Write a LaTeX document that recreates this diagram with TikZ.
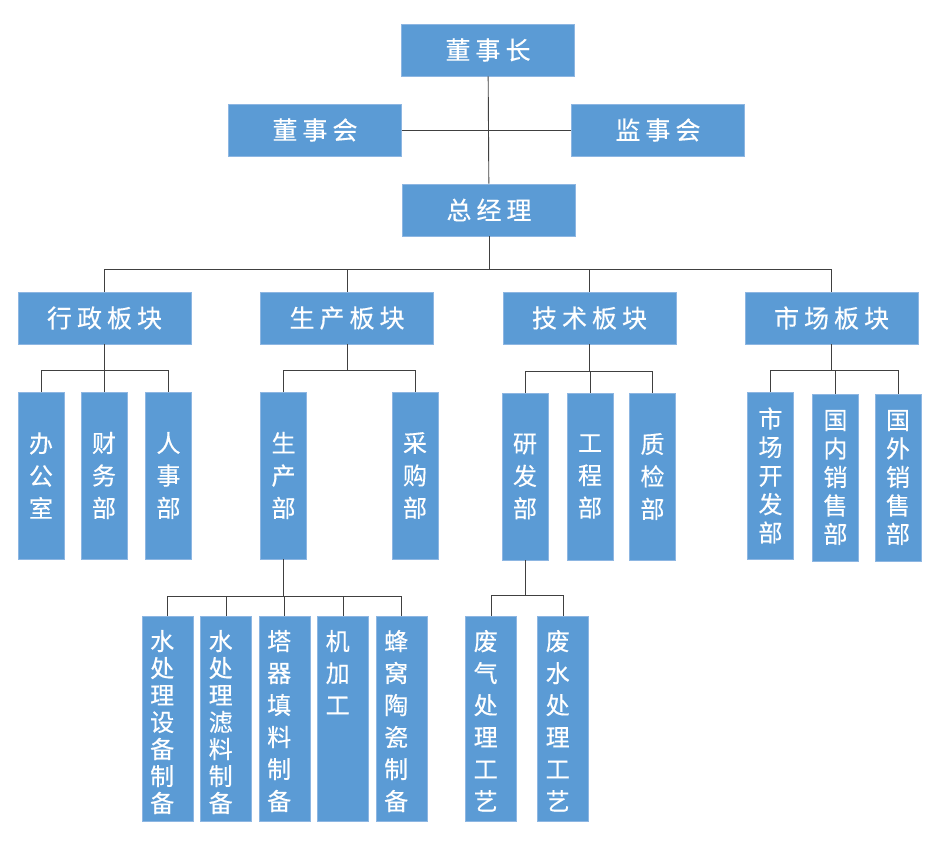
\documentclass[tikz,border=0pt]{standalone}
\usepackage{fontspec}
\setmainfont[FakeBold=0.4]{Noto Sans CJK SC}
\newfontfamily\spacedfont[LetterSpace=20, FakeBold=0.4]{Noto Sans CJK SC}
\definecolor{boxblue}{HTML}{5B9BD5}
\definecolor{boxline}{HTML}{8DB6E2}
\definecolor{linegray}{HTML}{404040}
\newcommand{\colsize}[1]{\fontsize{24}{#1}\selectfont}
\newcommand{\colfill}[2]{\parbox[c][177pt][t]{40pt}{\centering\colsize{#1}#2}}
\tikzset{
    unit/.style={draw=boxline, line width=0.6pt, fill=boxblue, text=white, inner sep=0pt,
        minimum width=173pt, minimum height=52pt, font=\spacedfont\fontsize{25}{25}\selectfont},
    dept/.style={unit, minimum width=46pt, minimum height=167pt, align=center},
    task/.style={dept, minimum height=205pt},
    link/.style={draw=linegray, line width=0.9pt}
}
\begin{document}
\begin{tikzpicture}[x=1pt, y=-1pt]
            \useasboundingbox (0, 0) rectangle (937, 848);

            \node[unit] (ceo) at (488, 50) { 董事长 };
            \node[unit] (board) at (315, 130) { 董事会 };
            \node[unit] (supervisor) at (658, 130) { 监事会 };
            \node[unit] (gm) at (489, 210) { 总经理 };

            \node[unit] (admin) at (104.5, 318) { 行政板块 };
            \node[unit] (production) at (347, 318) { 生产板块 };
            \node[unit] (technology) at (589.5, 318) { 技术板块 };
            \node[unit] (market) at (831.5, 318) { 市场板块 };

            \node[dept, font=\colsize{32.5}] (office) at (41, 475.5) { 办\\公\\室 };
            \node[dept, font=\colsize{32.5}] (finance) at (104, 475.5) { 财\\务\\部 };
            \node[dept, font=\colsize{32.5}] (hr) at (168.5, 475.5) { 人\\事\\部 };
            \node[dept, font=\colsize{32.5}] (proddept) at (283.5, 475.5) { 生\\产\\部 };
            \node[dept, font=\colsize{32.5}] (purchase) at (415, 475.5) { 采\\购\\部 };
            \node[dept, font=\colsize{32.5}] (rnd) at (525, 476.5) { 研\\发\\部 };
            \node[dept, font=\colsize{32.5}] (engineering) at (590, 476.5) { 工\\程\\部 };
            \node[dept, font=\colsize{32.5}] (quality) at (652.5, 476.5) { 质\\检\\部 };
            \node[dept, font=\colsize{28.5}] (mktdev) at (770.5, 475.5) { 市\\场\\开\\发\\部 };
            \node[dept, font=\colsize{28.5}] (domestic) at (835.5, 477.5) { 国\\内\\销\\售\\部 };
            \node[dept, font=\colsize{28.5}] (overseas) at (898, 477.5) { 国\\外\\销\\售\\部 };

            \node[task] (equip) at (167.5, 718.5) { \colfill{27}{水\\处\\理\\设\\备\\制\\备} };
            \node[task] (filter) at (226, 718.5) { \colfill{27}{水\\处\\理\\滤\\料\\制\\备} };
            \node[task] (packing) at (284.5, 718.5) { \colfill{32}{塔\\器\\填\\料\\制\\备} };
            \node[task] (machining) at (343, 718.5) { \colfill{32}{机\\加\\工} };
            \node[task] (ceramic) at (401.5, 718.5) { \colfill{32}{蜂\\窝\\陶\\瓷\\制\\备} };
            \node[task] (exhaust) at (491, 718.5) { \colfill{32}{废\\气\\处\\理\\工\\艺} };
            \node[task] (wastewater) at (563, 718.5) { \colfill{32}{废\\水\\处\\理\\工\\艺} };

            \draw[link] (ceo) -- (gm);
            \draw[link] (board) -- (supervisor);

            \draw[link] (gm.south) -- ++(0, 33) coordinate (topbus);
            \draw[link] (topbus) -| (admin.north);
            \draw[link] (topbus) -| (production.north);
            \draw[link] (topbus) -| (technology.north);
            \draw[link] (topbus) -| (market.north);

            \draw[link] (admin.south) -- ++(0, 26) coordinate (adminbus);
            \draw[link] (adminbus) -| (office.north);
            \draw[link] (adminbus) -| (finance.north);
            \draw[link] (adminbus) -| (hr.north);

            \draw[link] (production.south) -- ++(0, 26) coordinate (prodbus);
            \draw[link] (prodbus) -| (proddept.north);
            \draw[link] (prodbus) -| (purchase.north);

            \draw[link] (technology.south) -- ++(0, 27) coordinate (techbus);
            \draw[link] (techbus) -| (rnd.north);
            \draw[link] (techbus) -| (engineering.north);
            \draw[link] (techbus) -| (quality.north);

            \draw[link] (market.south) -- ++(0, 26) coordinate (mktbus);
            \draw[link] (mktbus) -| (mktdev.north);
            \draw[link] (mktbus) -| (domestic.north);
            \draw[link] (mktbus) -| (overseas.north);

            \draw[link] (proddept.south) -- ++(0, 37) coordinate (workbus);
            \draw[link] (workbus) -| (equip.north);
            \draw[link] (workbus) -| (filter.north);
            \draw[link] (workbus) -| (packing.north);
            \draw[link] (workbus) -| (machining.north);
            \draw[link] (workbus) -| (ceramic.north);

            \draw[link] (rnd.south) -- ++(0, 35) coordinate (rndbus);
            \draw[link] (rndbus) -| (exhaust.north);
            \draw[link] (rndbus) -| (wastewater.north);
\end{tikzpicture}
\end{document}
